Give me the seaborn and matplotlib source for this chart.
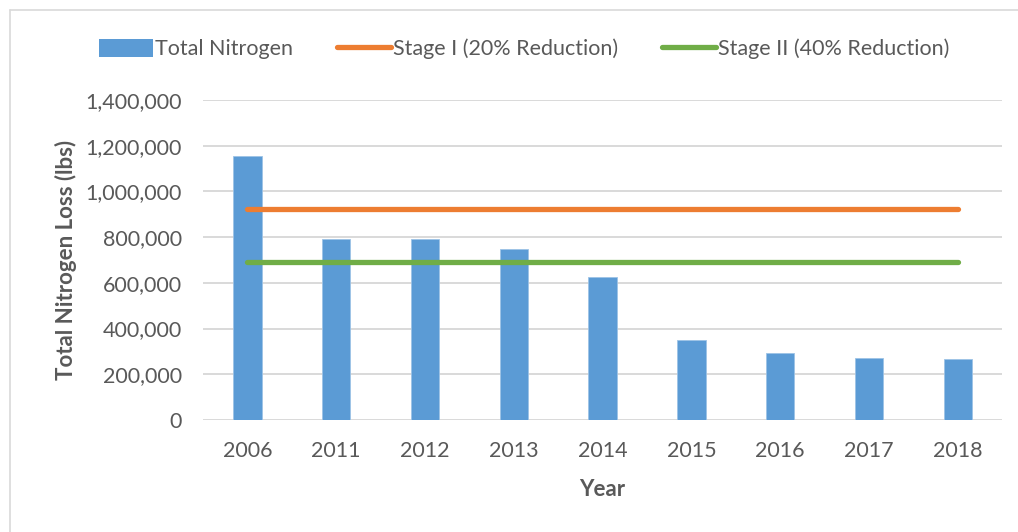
import numpy as np
import matplotlib
matplotlib.use("Agg")
import matplotlib.pyplot as plt
import seaborn as sns
from matplotlib.patches import Patch
from matplotlib.lines import Line2D
from matplotlib.ticker import FuncFormatter

# data
years = ["2006", "2011", "2012", "2013", "2014", "2015", "2016", "2017", "2018"]
total_nitrogen = [1155000, 790000, 792000, 750000, 624000, 348000, 292000, 273000, 268000]
stage_i = [924000] * len(years)
stage_ii = [690000] * len(years)

BLUE = "#5B9BD5"
ORANGE = "#ED7D31"
GREEN = "#70AD47"
TEXT = "#595959"
GRID = "#D9D9D9"

sns.set_style("white")
plt.rcParams["font.family"] = ["Lato", "DejaVu Sans"]

fig = plt.figure(figsize=(10.18, 5.32), dpi=100)
ax = fig.add_axes([0.1994, 0.2105, 0.785, 0.6015])

sns.barplot(x=years, y=total_nitrogen, color=BLUE, saturation=1, width=0.32,
            edgecolor="#9DC3E6", linewidth=0.6, ax=ax, zorder=2)

xpos = np.arange(len(years))
sns.lineplot(x=xpos, y=stage_i, color=ORANGE, linewidth=3.8,
             solid_capstyle="round", ax=ax, zorder=3)
sns.lineplot(x=xpos, y=stage_ii, color=GREEN, linewidth=3.8,
             solid_capstyle="round", ax=ax, zorder=3)

ax.set_xlim(-0.5, len(years) - 0.5)
ax.set_ylim(0, 1400000)
ax.set_yticks(np.arange(0, 1400001, 200000))
ax.yaxis.set_major_formatter(FuncFormatter(lambda v, p: f"{int(v):,}"))
ax.grid(axis="y", color=GRID, linewidth=1.4, zorder=0)
ax.set_axisbelow(True)
for s in ax.spines.values():
    s.set_visible(False)
ax.tick_params(axis="both", length=0, labelsize=15.5, labelcolor=TEXT)
ax.tick_params(axis="y", pad=15)
ax.tick_params(axis="x", pad=15)

ax.set_xlabel("Year", fontsize=16, fontweight="bold", color=TEXT, labelpad=13)
ax.set_ylabel("Total Nitrogen Loss (lbs)", fontsize=16, fontweight="bold",
              color=TEXT, labelpad=6)

handles = [
    Patch(facecolor=BLUE, edgecolor="none"),
    Line2D([0], [0], color=ORANGE, linewidth=3.8, solid_capstyle="round"),
    Line2D([0], [0], color=GREEN, linewidth=3.8, solid_capstyle="round"),
]
labels = ["Total Nitrogen", "Stage I (20% Reduction)", "Stage II (40% Reduction)"]
fig.legend(handles, labels, loc="center", bbox_to_anchor=(0.515, 0.908), ncol=3,
           frameon=False, fontsize=15.5, labelcolor=TEXT, handlelength=2.5,
           handleheight=0.9, handletextpad=0.1, columnspacing=2.05)

# chart frame edges visible in the reference (top and left)
fig.add_artist(Line2D([10 / 1018, 1], [1 - 10 / 532, 1 - 10 / 532],
                      transform=fig.transFigure, color=GRID, linewidth=1.2))
fig.add_artist(Line2D([10 / 1018, 10 / 1018], [0, 1 - 10 / 532],
                      transform=fig.transFigure, color=GRID, linewidth=1.2))

fig.savefig("out.png", dpi=100)
